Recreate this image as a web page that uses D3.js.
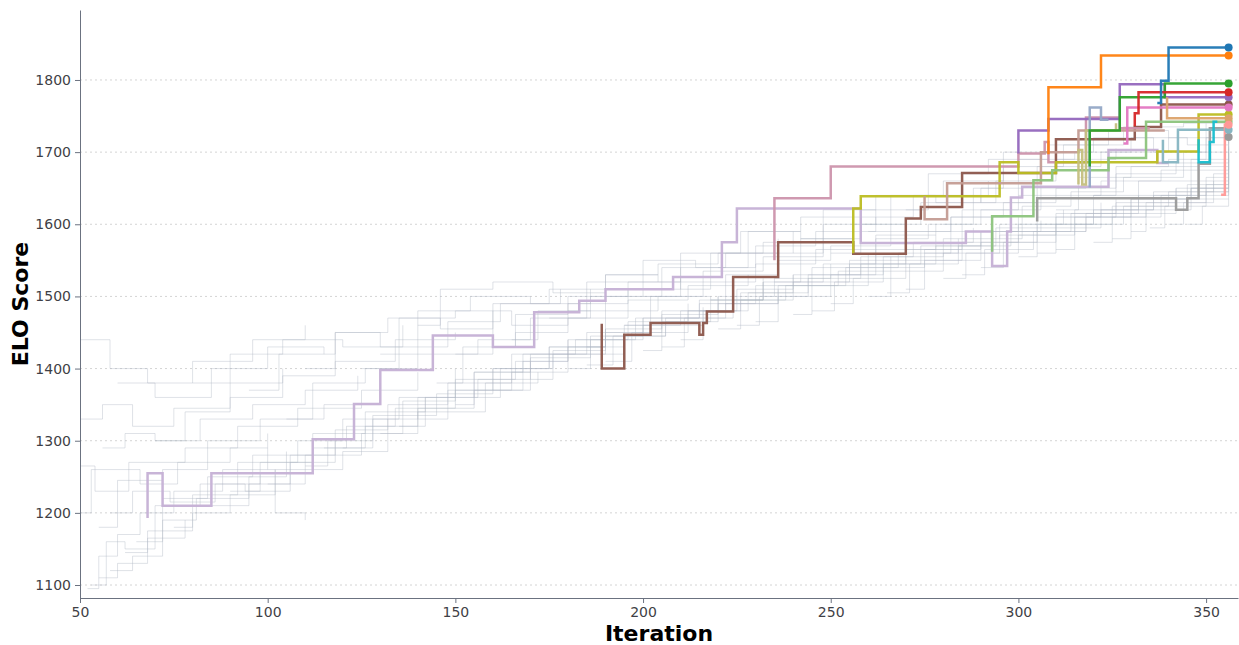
<!DOCTYPE html>
<html>
<head>
<meta charset="utf-8">
<script src="https://cdn.jsdelivr.net/npm/d3@7"></script>
<style>
  body { margin: 0; background: #fff; }
  svg { font-family: "DejaVu Sans", sans-serif; }
  .axis path, .axis line { stroke: #6b7280; }
  .axis text { fill: #3f3f46; font-size: 14px; font-family: "DejaVu Sans", sans-serif; }
</style>
</head>
<body>
<svg id="chart"></svg>
<script>
// tick values
const xTicks = [50, 100, 150, 200, 250, 300, 350];
const yTicks = [1100, 1200, 1300, 1400, 1500, 1600, 1700, 1800];

// faint background runs: [iteration, elo] step points
const grayRuns = [
    [[52,1095],[55,1140],[60,1170],[66,1200],[75,1230],[88,1260],[100,1290]],
    [[50,1330],[56,1350],[64,1320],[75,1345],[90,1380],[104,1400]],
    [[50,1440],[58,1400],[68,1380],[80,1410],[96,1440],[110,1460]],
    [[53,1100],[57,1160],[62,1150],[70,1210],[82,1240],[94,1230],[106,1270],[118,1300]],
    [[55,1180],[60,1245],[72,1260],[84,1300],[98,1330],[115,1350],[130,1380]],
    [[50,1265],[54,1230],[63,1270],[78,1290],[92,1320],[108,1345],[125,1370],[140,1395]],
    [[58,1120],[64,1140],[72,1190],[81,1220],[95,1250],[105,1285]],
    [[62,1145],[68,1175],[80,1200],[90,1225],[102,1260],[120,1285],[132,1330]],
    [[75,1180],[80,1225],[92,1270],[108,1300],[120,1330],[135,1360],[150,1400]],
    [[85,1210],[95,1240],[110,1280],[125,1310],[140,1345],[155,1370],[170,1410]],
    [[100,1240],[106,1280],[118,1315],[132,1350],[148,1380],[165,1420],[180,1440]],
    [[95,1370],[103,1420],[118,1450],[130,1430],[148,1465],[162,1490],[178,1510]],
    [[110,1265],[116,1300],[128,1335],[145,1365],[160,1400],[175,1430],[190,1455]],
    [[120,1290],[128,1330],[140,1360],[155,1395],[170,1420],[185,1450],[200,1470]],
    [[130,1310],[136,1355],[150,1385],[166,1410],[180,1440],[196,1465],[212,1490]],
    [[140,1330],[148,1370],[160,1400],[175,1430],[190,1455],[205,1480],[220,1500]],
    [[125,1400],[135,1470],[150,1480],[165,1460],[180,1500],[196,1520],[210,1540]],
    [[150,1350],[155,1395],[168,1420],[182,1440],[198,1470],[215,1495],[232,1520]],
    [[160,1370],[168,1410],[180,1430],[195,1460],[210,1480],[225,1510],[240,1530]],
    [[170,1385],[176,1420],[190,1450],[205,1475],[220,1500],[235,1525],[250,1545]],
    [[180,1400],[186,1440],[200,1470],[215,1490],[230,1515],[245,1540],[260,1560]],
    [[190,1410],[197,1450],[212,1480],[226,1505],[240,1530],[255,1550],[270,1570]],
    [[200,1425],[205,1465],[218,1495],[232,1520],[248,1545],[262,1565],[278,1585]],
    [[175,1470],[185,1520],[200,1550],[214,1540],[230,1570],[246,1590],[262,1610]],
    [[210,1440],[216,1480],[228,1505],[244,1530],[258,1555],[272,1575],[288,1595]],
    [[220,1455],[226,1495],[240,1520],[255,1545],[270,1565],[285,1590],[300,1610]],
    [[230,1465],[236,1500],[250,1530],[264,1555],[280,1580],[295,1600],[312,1620]],
    [[240,1475],[245,1515],[260,1540],[275,1565],[290,1590],[305,1610],[322,1630]],
    [[250,1490],[256,1525],[270,1550],[285,1575],[300,1600],[315,1620],[332,1640]],
    [[260,1500],[266,1535],[280,1560],[295,1585],[310,1610],[326,1630],[342,1650]],
    [[270,1510],[275,1550],[290,1575],[305,1600],[320,1620],[336,1645],[352,1660]],
    [[280,1525],[286,1560],[300,1585],[315,1610],[330,1635],[345,1655],[356,1670]],
    [[290,1540],[296,1575],[310,1600],[325,1625],[340,1645],[356,1660]],
    [[300,1555],[305,1590],[318,1615],[332,1640],[346,1660],[356,1680]],
    [[310,1565],[315,1600],[328,1625],[342,1650],[356,1690]],
    [[320,1575],[325,1610],[338,1640],[350,1665],[356,1700]],
    [[330,1590],[334,1620],[346,1650],[356,1710]],
    [[340,1600],[344,1630],[352,1670],[356,1720]],
    [[150,1420],[160,1490],[175,1510],[190,1500],[205,1540],[222,1560],[240,1590]],
    [[200,1500],[210,1560],[226,1590],[242,1580],[258,1620],[275,1640],[292,1660]],
    [[250,1560],[258,1610],[272,1640],[290,1630],[305,1680],[322,1700],[340,1720],[356,1730]],
    [[280,1600],[288,1650],[300,1690],[315,1700],[330,1720],[345,1710],[356,1725]],
    [[235,1520],[242,1580],[256,1600],[270,1590],[285,1620],[300,1650],[318,1670]],
    [[100,1260],[102,1200],[110,1190]],
    [[60,1380],[70,1360],[85,1400],[100,1430],[115,1420]],
    [[56,1290],[62,1310],[70,1300],[82,1330],[96,1350],[110,1370],[124,1390]],
    [[50,1200],[53,1260],[66,1240],[76,1270],[90,1290],[100,1310]],
    [[65,1160],[72,1220],[84,1250],[96,1280],[112,1310],[126,1340],[142,1360]],
    [[70,1300],[78,1340],[90,1360],[104,1390],[118,1410],[134,1440],[150,1450]],
    [[90,1230],[98,1270],[112,1290],[126,1320],[140,1340],[158,1380],[172,1395]],
    [[105,1330],[112,1380],[126,1400],[140,1420],[156,1440],[170,1470],[186,1480]],
    [[115,1290],[121,1320],[134,1345],[150,1370],[165,1395],[180,1420],[195,1445]],
    [[135,1320],[142,1360],[156,1385],[170,1415],[186,1445],[200,1460],[216,1485]],
    [[145,1380],[152,1430],[166,1450],[180,1470],[196,1495],[212,1515],[228,1530]],
    [[155,1360],[162,1400],[176,1425],[190,1445],[206,1470],[222,1490],[236,1510]],
    [[165,1440],[172,1480],[186,1500],[200,1520],[216,1535],[232,1555],[248,1575]],
    [[185,1405],[192,1445],[206,1465],[220,1490],[236,1515],[252,1535],[266,1555]],
    [[195,1460],[202,1500],[216,1520],[230,1545],[246,1565],[262,1585],[278,1600]],
    [[205,1430],[211,1470],[224,1495],[238,1515],[254,1540],[268,1560],[284,1580]],
    [[215,1480],[222,1530],[236,1550],[250,1570],[266,1590],[282,1610],[298,1625]],
    [[225,1460],[231,1500],[244,1525],[258,1545],[274,1570],[290,1590],[306,1605]],
    [[245,1480],[251,1520],[264,1545],[278,1570],[294,1595],[310,1615],[326,1635]],
    [[255,1530],[262,1580],[276,1600],[290,1620],[306,1640],[322,1660],[338,1675],[356,1690]],
    [[265,1505],[271,1545],[284,1570],[298,1590],[314,1615],[330,1635],[346,1650],[356,1655]],
    [[275,1560],[282,1610],[296,1630],[310,1650],[326,1670],[342,1685],[356,1700]],
    [[285,1530],[291,1565],[304,1590],[318,1610],[334,1630],[350,1645],[356,1650]],
    [[295,1580],[301,1625],[314,1645],[328,1665],[344,1680],[356,1705]],
    [[305,1560],[310,1595],[322,1620],[336,1640],[350,1655],[356,1665]],
    [[315,1600],[320,1640],[332,1660],[346,1690],[356,1715]],
    [[325,1580],[330,1615],[342,1635],[356,1645]],
    [[335,1595],[339,1625],[350,1640],[356,1650]],
    [[345,1600],[349,1625],[356,1635]],
    [[300,1640],[306,1700],[320,1720],[336,1700],[350,1740]],
    [[260,1590],[266,1640],[280,1660],[296,1680],[312,1700]],
    [[220,1540],[228,1590],[242,1610],[258,1600],[274,1630],[290,1650]],
    [[180,1480],[190,1530],[204,1545],[220,1560],[236,1580]],
    [[130,1420],[140,1480],[154,1500],[170,1490],[186,1510]],
    [[80,1380],[90,1420],[104,1440],[120,1430],[136,1460]],
    [[55,1110],[60,1130],[68,1165],[78,1190]],
    [[58,1200],[64,1230],[74,1215],[86,1240],[98,1255]],
    [[140,1460],[146,1510],[160,1520],[176,1505],[190,1530],[204,1520]],
    [[110,1400],[118,1450],[132,1470],[146,1455],[160,1480]],
    [[240,1560],[248,1620],[262,1640],[278,1630],[294,1660],[310,1690],[326,1705]],
    [[270,1620],[276,1670],[292,1690],[308,1710],[324,1730],[340,1720]],
    [[290,1650],[296,1700],[312,1710],[328,1735],[344,1740],[356,1735]],
    [[210,1510],[218,1560],[232,1575],[248,1600],[262,1620]],
    [[160,1430],[166,1475],[180,1490],[196,1510],[210,1525]],
    [[310,1620],[316,1665],[330,1680],[344,1700],[356,1708]],
    [[185,1430],[190,1480],[204,1500],[218,1495],[232,1525]],
    [[320,1640],[326,1680],[340,1690],[350,1720],[356,1712]]
];

// highlighted runs
const topNames = ["lavender","brown","rosy","olive","tan","lightgreen","gray","purple","orange",
    "khaki","steel","green","pink","red","teal","blue","peach","cyan","salmon"];
const topColors = ["#c5b0d5","#8c564b","#cc94ac","#bcbd22","#c49c94","#8cc47c","#9a9a9a","#9467bd","#ff7f0e",
    "#c4bf7e","#93a8c6","#2ca02c","#e377c2","#d62728","#86b5c2","#1f77b4","#dca36c","#17becf","#ff9896"];
const topRuns = [
    [[68,1193],[68,1255],[72,1210],[85,1255],[112,1302],[123,1351],[130,1398],[144,1446],[160,1430],[171,1478],[183,1494],[190,1510],[208,1527],[221,1575],[225,1622],[258,1574],[286,1590],[293,1542],[297,1590],[298,1637],[301,1652],[324,1703],[337,1685],[340,1685]],
    [[189,1462],[189,1400],[195,1447],[202,1463],[215,1447],[216,1463],[217,1479],[224,1527],[236,1575],[256,1559],[270,1608],[274,1624],[285,1671],[310,1718],[331,1735],[338,1766],[356,1766]],
    [[235,1550],[235,1636],[250,1680],[300,1698],[307,1714],[308,1686],[318,1748],[327,1733],[335,1733]],
    [[256,1560],[256,1622],[258,1639],[295,1686],[300,1671],[310,1686],[337,1701],[348,1752],[356,1752]],
    [[275,1639],[275,1607],[281,1657],[306,1700],[316,1730],[339,1730]],
    [[293,1562],[293,1611],[304,1661],[309,1675],[324,1692],[334,1742],[356,1742]],
    [[305,1604],[305,1636],[342,1620],[345,1636],[348,1684],[351,1733],[356,1721]],
    [[300,1698],[300,1730],[308,1746],[327,1794],[339,1776],[356,1776]],
    [[308,1697],[308,1790],[322,1834],[356,1834]],
    [[316,1655],[316,1703],[317,1655],[318,1730],[326,1740]],
    [[319,1651],[319,1762],[322,1745],[324,1745]],
    [[319,1680],[319,1730],[327,1776],[339,1795],[356,1795]],
    [[328,1712],[329,1762],[356,1762]],
    [[331,1736],[331,1754],[332,1783],[356,1783]],
    [[338.5,1717],[338.5,1686],[342.5,1731],[356,1731]],
    [[337,1768],[338,1799],[340,1845],[356,1845]],
    [[339.6,1776],[339.6,1747],[356,1747]],
    [[348,1718],[348,1686],[351,1714],[352,1742],[353,1742]],
    [[354,1641],[355,1738],[356,1738]]
];

const width = 1239, height = 645;
const margin = { top: 10, right: 1, bottom: 47, left: 80 };

const svg = d3.select("#chart")
    .attr("width", width)
    .attr("height", height);

const x = d3.scaleLinear()
    .domain([50, 358.5])
    .range([margin.left, width - margin.right]);

const y = d3.scaleLinear()
    .domain([1082, 1897])
    .range([height - margin.bottom, margin.top]);

// dotted horizontal grid
svg.append("g")
    .selectAll("line")
    .data(yTicks)
    .join("line")
    .attr("x1", margin.left)
    .attr("x2", width - margin.right)
    .attr("y1", d => y(d))
    .attr("y2", d => y(d))
    .attr("stroke", "#d4d4d4")
    .attr("stroke-width", 1)
    .attr("stroke-dasharray", "2,3");

const line = d3.line()
    .x(d => x(d[0]))
    .y(d => y(d[1]))
    .curve(d3.curveStepAfter);

// background runs
svg.append("g")
    .selectAll("path")
    .data(grayRuns)
    .join("path")
    .attr("d", line)
    .attr("fill", "none")
    .attr("stroke", "#aeb6c4")
    .attr("stroke-opacity", 0.4)
    .attr("stroke-width", 1);

// highlighted runs
svg.append("g")
    .selectAll("path")
    .data(topRuns)
    .join("path")
    .attr("d", line)
    .attr("fill", "none")
    .attr("stroke", (d, i) => topColors[i])
    .attr("stroke-width", 2.5)
    .attr("stroke-opacity", 0.95);

// end dots for runs that reach the last iteration
const lastIter = 356;
svg.append("g")
    .selectAll("circle")
    .data(topRuns.map((d, i) => ({ p: d[d.length - 1], c: topColors[i] })).filter(d => d.p[0] === lastIter))
    .join("circle")
    .attr("cx", d => x(d.p[0]))
    .attr("cy", d => y(d.p[1]))
    .attr("r", 4)
    .attr("fill", d => d.c);

// axes
svg.append("g")
    .attr("class", "axis")
    .attr("transform", `translate(0,${height - margin.bottom})`)
    .call(d3.axisBottom(x).tickValues(xTicks).tickFormat(d3.format("d")).tickSize(5).tickPadding(4).tickSizeOuter(0));

svg.append("g")
    .attr("class", "axis")
    .attr("transform", `translate(${margin.left},0)`)
    .call(d3.axisLeft(y).tickValues(yTicks).tickFormat(d3.format("d")).tickSize(5).tickPadding(4).tickSizeOuter(0));

// axis titles
svg.append("text")
    .attr("x", (margin.left + width - margin.right) / 2)
    .attr("y", 641)
    .attr("text-anchor", "middle")
    .style("font-size", "22px")
    .style("font-weight", "bold")
    .text("Iteration");

svg.append("text")
    .attr("transform", "rotate(-90)")
    .attr("x", -(margin.top + height - margin.bottom) / 2)
    .attr("y", 28)
    .attr("text-anchor", "middle")
    .style("font-size", "22px")
    .style("font-weight", "bold")
    .text("ELO Score");
</script>
</body>
</html>
